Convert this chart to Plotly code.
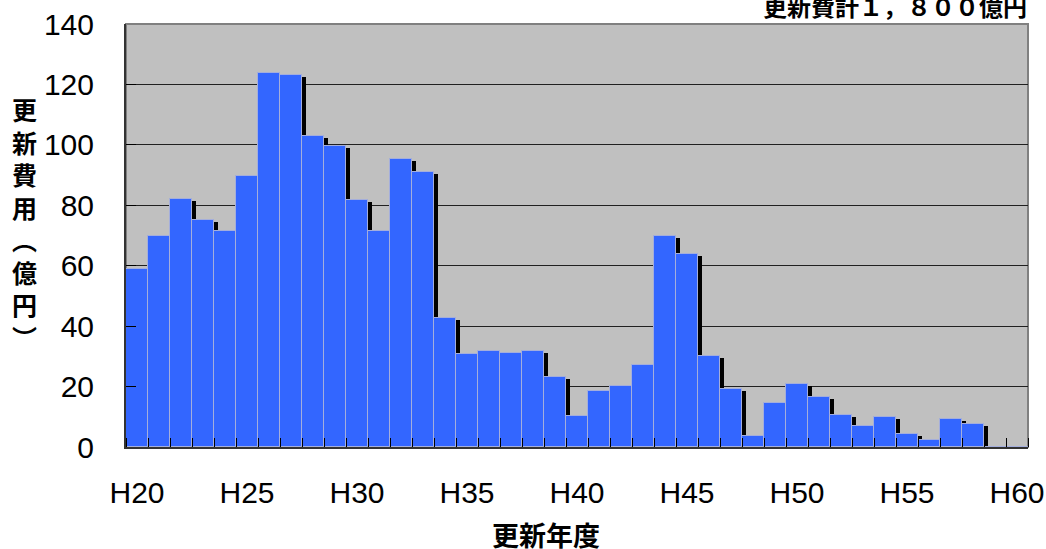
import plotly.graph_objects as go

# 更新年度 (H20 - H60) and 更新費用 (億円)
years = list(range(20, 61))
costs = [59.0, 70.0, 82.1, 75.0, 71.4, 89.6, 123.9, 123.2, 102.8, 99.5,
         81.6, 71.4, 95.4, 91.1, 42.8, 30.8, 31.7, 31.2, 31.7, 23.3,
         10.4, 18.4, 20.2, 27.0, 69.7, 64.0, 30.1, 19.2, 3.8, 14.6,
         20.9, 16.7, 10.5, 7.0, 9.9, 4.2, 2.3, 9.2, 7.6, 0.0, 0.0]

tick_years = [20, 25, 30, 35, 40, 45, 50, 55, 60]
tick_text = ["H20", "H25", "H30", "H35", "H40", "H45", "H50", "H55", "H60"]

y_ticks = [0, 20, 40, 60, 80, 100, 120, 140]

total_text = "更新費計１，８００億円"
x_title = "更新年度"
y_title_chars = ["更", "新", "費", "用", "︵", "億", "円", "︶"]

NUM_FONT = "Liberation Sans, Arial, sans-serif"
CJK_FONT = "Noto Sans CJK JP, Noto Sans CJK SC, sans-serif"

# drop shadow: shifted slightly right and down
shadow_shift = 0.18
shadow_drop = 0.66
shadow_vals = [max(v - shadow_drop, 0) for v in costs]

fig = go.Figure()
fig.add_trace(go.Bar(
    x=years, y=shadow_vals, width=1, offset=-0.5 + shadow_shift,
    marker=dict(color="black", line=dict(width=0)),
    hoverinfo="skip", showlegend=False,
))
fig.add_trace(go.Bar(
    x=years, y=costs, width=1, offset=-0.5,
    marker=dict(color="#3366FF", line=dict(color="#A4AEDC", width=1)),
    showlegend=False,
))

fig.update_layout(
    width=1046, height=549,
    margin=dict(l=126, r=18, t=24, b=102, autoexpand=False),
    paper_bgcolor="white",
    plot_bgcolor="#C0C0C0",
    barmode="overlay",
    bargap=0,
    xaxis=dict(
        range=[19.5, 60.5], automargin=False,
        tickmode="array", tickvals=tick_years, ticktext=tick_text,
        ticks="", showgrid=False, zeroline=False,
        showline=True, linecolor="#333333", linewidth=2,
        tickfont=dict(family=NUM_FONT, size=30, color="black"),
        ticklabelstandoff=18,
        ticklabeloverflow="allow",
        minor=dict(tickmode="linear", tick0=19.5, dtick=1, ticks="inside",
                   ticklen=9, tickwidth=1, tickcolor="black", showgrid=False),
    ),
    yaxis=dict(
        range=[0, 140], automargin=False,
        tickmode="array", tickvals=y_ticks,
        ticks="inside", ticklen=10, tickwidth=1, tickcolor="black",
        showgrid=True, gridcolor="#202020", gridwidth=1,
        zeroline=False,
        showline=True, linecolor="#333333", linewidth=2,
        tickfont=dict(family=NUM_FONT, size=30, color="black"),
        ticklabelstandoff=24,
    ),
    shapes=[dict(type="rect", xref="paper", yref="paper", x0=0, x1=1, y0=0, y1=1,
                 line=dict(color="#808080", width=2), layer="below")],
    annotations=[
        dict(text="<br>".join(y_title_chars), xref="paper", yref="paper",
             x=-0.112, y=0.53, xanchor="center", yanchor="middle",
             showarrow=False,
             font=dict(family=CJK_FONT, size=25, color="black", weight="bold")),
        dict(text=x_title, xref="paper", yref="paper",
             x=0.4656, y=-0.208, xanchor="center", yanchor="middle",
             showarrow=False,
             font=dict(family=CJK_FONT, size=27, color="black", weight="bold")),
        dict(text=total_text, xref="paper", yref="paper",
             x=0.852, y=1.0426, xanchor="center", yanchor="middle",
             showarrow=False,
             font=dict(family=CJK_FONT, size=24, color="black", weight="bold")),
    ],
)

fig.write_html("out.html")
